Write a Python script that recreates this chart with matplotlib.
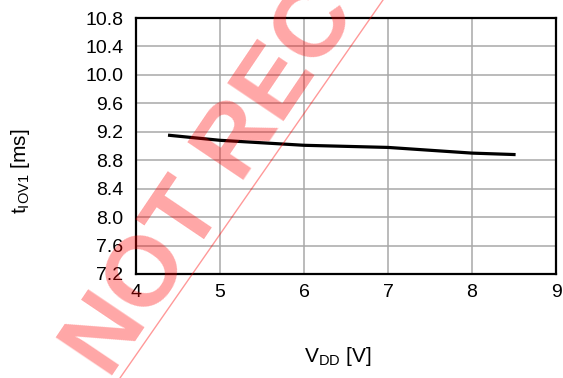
import matplotlib
matplotlib.use("Agg")
import matplotlib.pyplot as plt

plt.rcParams['font.family'] = ['Liberation Sans', 'DejaVu Sans']
plt.rcParams['mathtext.fontset'] = 'custom'
plt.rcParams['mathtext.rm'] = 'Liberation Sans'
plt.rcParams['mathtext.it'] = 'Liberation Sans'

# données
vdd = [4.4, 5, 6, 7, 8, 8.5]
t_iov1 = [9.15, 9.08, 9.01, 8.98, 8.90, 8.88]

x_ticks = [4, 5, 6, 7, 8, 9]
y_ticks = [7.2, 7.6, 8.0, 8.4, 8.8, 9.2, 9.6, 10.0, 10.4, 10.8]

fig = plt.figure(figsize=(5.63, 3.78), dpi=100)
ax = fig.add_axes([136 / 563, 1 - 274 / 378, 420 / 563, 256 / 378])

ax.plot(vdd, t_iov1, color="black", linewidth=2.3, zorder=3)

ax.set_xlim(4, 9)
ax.set_ylim(7.2, 10.8)
ax.set_xticks(x_ticks)
ax.set_yticks(y_ticks)
ax.set_yticklabels([f"{v:.1f}" for v in y_ticks])
ax.tick_params(length=0, labelsize=14)
ax.tick_params(axis="x", pad=7)
ax.tick_params(axis="y", pad=9)
ax.grid(True, color="#a8a8a8", linewidth=1.1)
for s in ax.spines.values():
    s.set_linewidth(1.6)
    s.set_zorder(4)

fig.text(338 / 563, 1 - 357 / 378, r"V$_{\mathrm{DD}}$ [V]", ha="center", va="center", fontsize=15)
fig.text(21 / 563, 1 - 171 / 378, r"t$_{\mathrm{IOV1}}$ [ms]", ha="center", va="center",
         rotation=90, fontsize=15)

# filigrane
fig.text(109 / 563, 1 - 380 / 378, "NOT RECOMMENDED", color="red", alpha=0.35,
         fontsize=71, fontweight="bold", rotation=56, rotation_mode="anchor",
         ha="left", va="baseline", zorder=10)
fig.add_artist(plt.Line2D([120 / 563, 383 / 563], [0, 1], color="red", alpha=0.4,
                          linewidth=1, transform=fig.transFigure, zorder=10))

fig.savefig("out.png", dpi=100)
